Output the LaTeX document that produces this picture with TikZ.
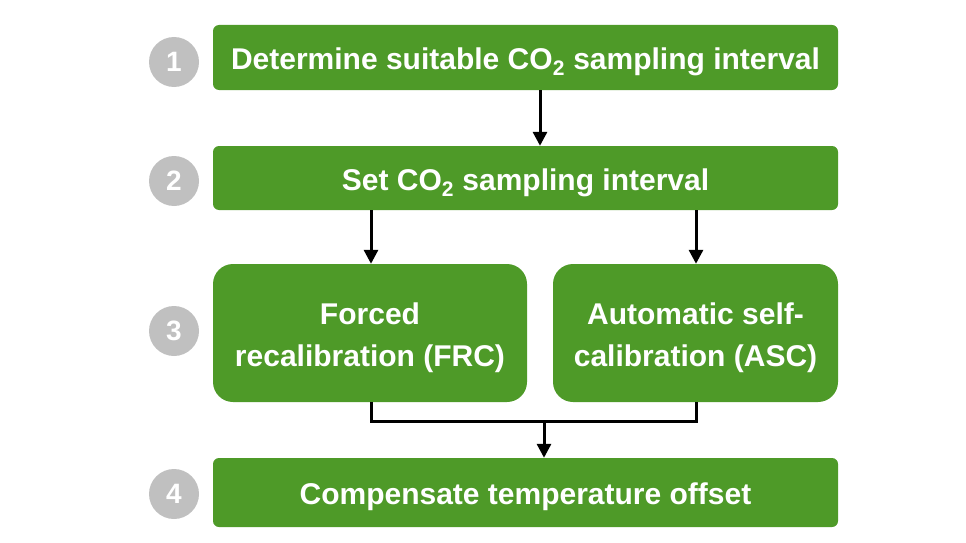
\documentclass[tikz,border=0pt]{standalone}
\usepackage{fontspec}
\setmainfont{Liberation Sans}
\usetikzlibrary{arrows.meta}
\definecolor{boxgreen}{RGB}{78,154,40}
\definecolor{numgray}{RGB}{192,192,192}
\begin{document}
\begin{tikzpicture}[x=1pt,y=-1pt,
  stepbox/.style={fill=boxgreen, draw=none, inner sep=0pt, rectangle},
  steptext/.style={text=white, font=\fontsize{30}{42}\selectfont\bfseries, align=center},
  numcirc/.style={circle, fill=numgray, text=white, minimum size=50pt, inner sep=0pt, font=\fontsize{28}{30}\selectfont\bfseries},
  conn/.style={line width=3pt, draw=black},
  arr/.style={conn, -{Triangle[length=14pt,width=14pt]}}
]
\useasboundingbox (0,0) rectangle (966,543);
\node[stepbox, rounded corners=6pt, minimum width=625pt, minimum height=65pt] (s1) at (525.5,57.5) {};
\node[stepbox, rounded corners=6pt, minimum width=625pt, minimum height=64pt] (s2) at (525.5,178) {};
\node[stepbox, rounded corners=20pt, minimum width=314pt, minimum height=138pt] (s3a) at (370,333) {};
\node[stepbox, rounded corners=20pt, minimum width=285pt, minimum height=138pt] (s3b) at (695.5,333) {};
\node[stepbox, rounded corners=6pt, minimum width=625pt, minimum height=69pt] (s4) at (525.5,492.5) {};
\node[steptext] (t1) at (525.5,62) {Determine suitable CO\textsubscript{2} sampling interval};
\node[steptext] (t2) at (525.5,183) {Set CO\textsubscript{2} sampling interval};
\node[steptext] (t3a) at (370,338) {Forced\\recalibration (FRC)};
\node[steptext] (t3b) at (695.5,338) {Automatic self-\\calibration (ASC)};
\node[steptext] (t4) at (525.5,497) {Compensate temperature offset};
\node[numcirc] (n1) at (174,62) {1};
\node[numcirc] (n2) at (174,181) {2};
\node[numcirc] (n3) at (174,331) {3};
\node[numcirc] (n4) at (174,494) {4};
\coordinate (xa) at (540,0);
\coordinate (xl) at (371,0);
\coordinate (xr) at (696,0);
\coordinate (j) at (544,421);
\draw[arr] (s1.south -| xa) -- (s2.north -| xa);
\draw[arr] (s2.south -| xl) -- (s3a.north -| xl);
\draw[arr] (s2.south -| xr) -- (s3b.north -| xr);
\draw[conn] (s3a.south -| xl) |- (j) -| (s3b.south -| xr);
\draw[arr] (j) -- (s4.north -| j);
\end{tikzpicture}
\end{document}
